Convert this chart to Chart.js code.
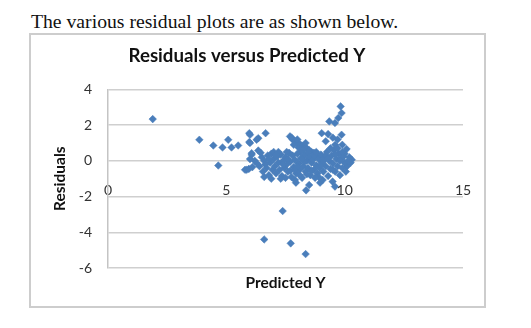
<!DOCTYPE html>
<html>
<head>
<meta charset="utf-8">
<script src="https://cdn.jsdelivr.net/npm/chart.js@4/dist/chart.umd.min.js"></script>
<style>
  body { margin: 0; background: #fff; width: 531px; height: 328px; overflow: hidden; position: relative; }
  #caption { position: absolute; left: 31px; top: 10px; font-family: "Liberation Serif", serif; font-size: 19.7px; color: #111; white-space: nowrap; }
  #box { position: absolute; left: 29px; top: 33px; width: 453px; height: 271px; border: 2px solid #cdcdcd; }
</style>
</head>
<body>
<div id="caption">The various residual plots are as shown below.</div>
<div id="box"><canvas id="residualChart" width="453" height="271"></canvas></div>
<script>
// predicted Y values and matching residuals
const predictedY = [
  1.89, 3.86, 4.45, 4.84, 5.08, 5.22, 5.5, 4.66, 5.97, 5.97, 6.35, 6.66, 5.86, 6.07, 6.35, 6.0, 6.28, 6.0, 6.07, 5.79, 6.0, 6.2, 6.1, 5.95,
  7.38, 6.6, 7.72, 8.35, 7.94, 8.37, 8.96, 9.07, 9.49, 9.59, 7.9, 8.5,
  9.83, 9.87, 9.73, 9.35, 9.59, 9.03, 9.87, 10.08, 10.3, 7.69, 7.76, 9.3, 9.5, 9.7, 9.2, 9.6, 9.9, 10.0, 10.2, 10.25, 10.1,
  7.8, 7.9, 8.0, 8.1, 8.2, 8.3, 8.4, 8.5, 8.6, 8.7, 8.8, 7.85, 8.05, 8.25, 8.45, 8.65, 8.9, 8.0, 8.35, 8.15,
  6.4, 6.5, 6.55, 6.6, 6.7, 6.75, 6.8, 6.85, 6.9, 6.95, 7.0, 7.05, 7.1, 7.15, 7.2, 7.25, 7.3, 7.35, 7.4, 7.45,
  7.5, 7.55, 7.6, 7.65, 7.7, 7.75, 7.8, 7.85, 7.9, 7.95, 8.0, 8.05, 8.1, 8.15, 8.2, 8.25, 8.3, 8.35, 8.4, 8.45,
  8.5, 8.55, 8.6, 8.65, 8.7, 8.75, 8.8, 8.85, 8.9, 8.95, 9.0, 9.05, 9.1, 9.15, 9.2, 9.25, 9.3, 9.35, 9.4, 9.45,
  9.5, 9.55, 9.6, 9.65, 9.7, 9.75, 9.8, 9.85, 9.9, 9.95, 10.0, 10.05, 10.15,
  6.3, 6.45, 6.6, 6.9, 7.0, 7.2, 7.3, 7.5, 7.55, 7.7, 7.9, 8.1, 8.3, 8.4, 8.6, 8.8, 8.9, 9.0, 9.1, 9.2,
  9.3, 9.4, 9.5, 9.6, 9.7, 9.8, 9.9, 8.75, 8.2, 8.0, 7.6, 7.4, 7.1, 6.8, 6.65
];
const residuals = [
  2.34, 1.18, 0.86, 0.75, 1.18, 0.75, 0.86, -0.26, 1.55, 1.05, 1.27, 1.55, -0.5, 0.34, 0.58, 1.46, 1.18, 1.0, 0.43, -0.5, 0.1, 0.0, -0.35, -0.45,
  -2.81, -4.4, -4.62, -5.22, -1.22, -1.65, -1.22, -1.07, -1.16, -1.44, -1.07, -1.35,
  3.05, 2.68, 2.4, 2.21, 2.12, 1.55, 1.46, 0.66, 0.06, 1.37, 1.3, 1.5, 1.3, 1.2, 1.1, 0.9, 0.9, 0.4, 0.2, -0.1, -0.3,
  1.2, 1.1, 1.0, 0.95, 0.85, 0.8, 0.7, 0.6, 0.5, 0.45, 0.35, 0.9, 0.75, 0.6, 0.45, 0.3, 0.2, 1.2, 1.0, 0.5,
  -0.3, 0.2, -0.6, 0.0, -0.4, 0.3, -0.8, -0.1, 0.4, -0.5, 0.1, -0.3, -0.7, 0.25, -0.1, -0.5, 0.35, -0.85, 0.0, -0.4,
  0.2, -0.2, -0.6, 0.45, -0.05, -0.9, 0.3, -0.35, 0.05, -0.7, 0.4, -0.15, -0.5, 0.15, -0.95, -0.3, 0.3, -0.6, 0.0, -0.4,
  0.2, -0.8, -0.1, 0.05, -0.5, 0.25, -0.25, -0.7, 0.1, -0.4, 0.35, -0.1, -0.6, 0.2, -0.3, 0.5, -0.85, 0.0, -0.45, 0.3,
  -0.15, 0.6, -0.6, 0.1, -0.3, 0.4, -0.8, 0.15, -0.4, 0.25, -0.1, -0.6, 0.0,
  -0.15, 0.45, -0.9, -1.0, 0.5, 0.5, -1.0, -0.95, 0.5, -0.55, -0.5, -0.8, -0.05, -0.75, -0.55, 0.5, -0.9, -0.2, 0.0, 0.3,
  0.15, 0.7, -0.5, 0.35, 0.7, 0.0, 0.5, -0.95, 0.1, -0.3, 0.1, -0.2, 0.3, 0.1, -0.2
];

const chartTitle = 'Residuals versus Predicted Y';
const xTitle = 'Predicted Y';
const yTitle = 'Residuals';
const xTickCrossing = -0.65; // the x labels sit just above the -2 gridline

const points = predictedY.map((x, i) => ({ x: x, y: residuals[i] }));

const ctx = document.getElementById('residualChart').getContext('2d');
new Chart(ctx, {
  type: 'scatter',
  data: {
    datasets: [{
      label: yTitle,
      data: points,
      xAxisID: 'x',
      pointStyle: 'rectRot',
      pointRadius: 3.8,
      pointBorderWidth: 0.5,
      backgroundColor: '#4a7ebb',
      borderColor: '#4a7ebb'
    }]
  },
  options: {
    responsive: false,
    animation: false,
    layout: { padding: { left: 0, top: 0, bottom: 0, right: 21 } },
    plugins: {
      legend: { display: false },
      tooltip: { enabled: false },
      title: {
        display: true,
        text: chartTitle,
        color: '#111',
        font: { family: 'Lato', size: 18.7, weight: 'bold' },
        padding: { top: 10, bottom: 22 }
      }
    },
    scales: {
      x: {
        type: 'linear',
        position: 'bottom',
        min: 0,
        max: 15,
        ticks: { display: false },
        grid: { display: false },
        border: { display: false },
        title: { display: true, text: xTitle, color: '#111', font: { family: 'Lato', size: 15.5, weight: 'bold' }, padding: { top: 0, bottom: 14 } },
        afterFit: (scale) => { scale.height = 38; }
      },
      xTicks: {
        type: 'linear',
        position: { y: xTickCrossing },
        min: 0,
        max: 15,
        ticks: { stepSize: 5, padding: 2, color: '#333', font: { family: 'Lato', size: 14 } },
        grid: { display: false },
        border: { display: false },
        afterFit: (scale) => { scale.height = 0; }
      },
      y: {
        min: -6,
        max: 4,
        ticks: { stepSize: 2, padding: 16, color: '#333', font: { family: 'Lato', size: 14 } },
        grid: { color: '#cfcfcf', lineWidth: 1.5, drawTicks: false },
        border: { display: true, color: '#c4c4c4', width: 1.5 },
        title: { display: true, text: yTitle, color: '#111', font: { family: 'Lato', size: 15.5, weight: 'bold' }, padding: { top: 20, bottom: 0 } },
        afterFit: (scale) => { scale.width = 77; }
      }
    }
  }
});
</script>
</body>
</html>
